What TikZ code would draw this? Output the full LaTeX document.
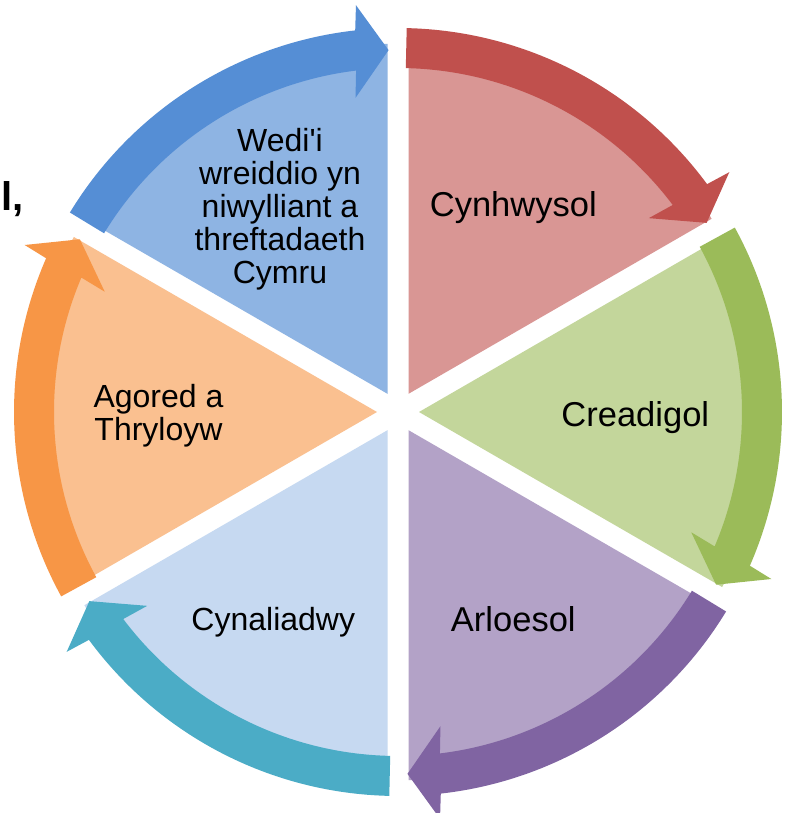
\documentclass[tikz,border=0pt]{standalone}
\usepackage{fontspec}
\setmainfont{Liberation Sans}
\definecolor{blueD}{HTML}{558ED5}\definecolor{blueL}{HTML}{8EB4E3}
\definecolor{redD}{HTML}{C0504D}\definecolor{redL}{HTML}{D99694}
\definecolor{greenD}{HTML}{9BBB59}\definecolor{greenL}{HTML}{C3D69B}
\definecolor{purpleD}{HTML}{8064A2}\definecolor{purpleL}{HTML}{B3A2C7}
\definecolor{aquaD}{HTML}{4BACC6}\definecolor{aquaL}{HTML}{C6D9F1}
\definecolor{orangeD}{HTML}{F79646}\definecolor{orangeL}{HTML}{FAC090}
\begin{document}
\begin{tikzpicture}[x=1pt,y=1pt,
  lbl/.style={font=\fontsize{34.5}{36}\selectfont, inner sep=0pt, text=black, anchor=base},
  lbltwo/.style={font=\fontsize{32}{32.9}\selectfont, inner sep=0pt, align=center, text=black},
  sector/.style={fill=#1},
  cyclearrow/.style={fill=#1}]
\useasboundingbox (-398pt,-401pt) rectangle (392pt,412pt);
\fill[white] (-398pt,-401pt) rectangle (392pt,412pt);
% exploded pie sectors
\foreach \a/\c in {90/blueL, 30/redL, -30/greenL, -90/purpleL, -150/aquaL, 150/orangeL}{
  \path[sector=\c] ({\a+30}:21pt) -- ++(\a:350pt)
    arc[start angle=\a, end angle=\a+60, radius=350pt] -- cycle;
}
% circular arrows
\foreach \a/\c in {90/blueD, 30/redD, -30/greenD, -90/purpleD, -150/aquaD, 150/orangeD}{
  \path[cyclearrow=\c] ({\a+58.7}:384pt)
    arc[start angle=\a+58.7, end angle=\a+6.4, radius=384pt]
    -- ({\a+5.9}:409pt) -- ({\a+1.5}:362pt) -- ({\a+7.7}:317pt)
    -- ({\a+7.0}:344pt)
    arc[start angle=\a+7.0, end angle=\a+58.7, radius=344pt] -- cycle;
}
% labels
\node[lbltwo] (wedi) at (-118pt,203pt) {Wedi\textquotesingle i\\wreiddio yn\\niwylliant a\\threftadaeth\\Cymru};
\node[lbl] (cynh) at (115.3pt,195.3pt) {Cynhwysol};
\node[lbl] (crea) at (237.3pt,-14.7pt) {Creadigol};
\node[lbl] (arlo) at (115.3pt,-219.7pt) {Arloesol};
\node[lbl, font=\fontsize{32}{33}\selectfont] (cyna) at (-124.7pt,-218.5pt) {Cynaliadwy};
\node[lbltwo] (agor) at (-239.5pt,-3.5pt) {Agored a\\Thryloyw};
\node[anchor=base west, inner sep=0pt, font=\fontsize{40}{42}\selectfont\bfseries] (frag) at (-396.7pt,201.3pt) {l,};
\end{tikzpicture}
\end{document}
